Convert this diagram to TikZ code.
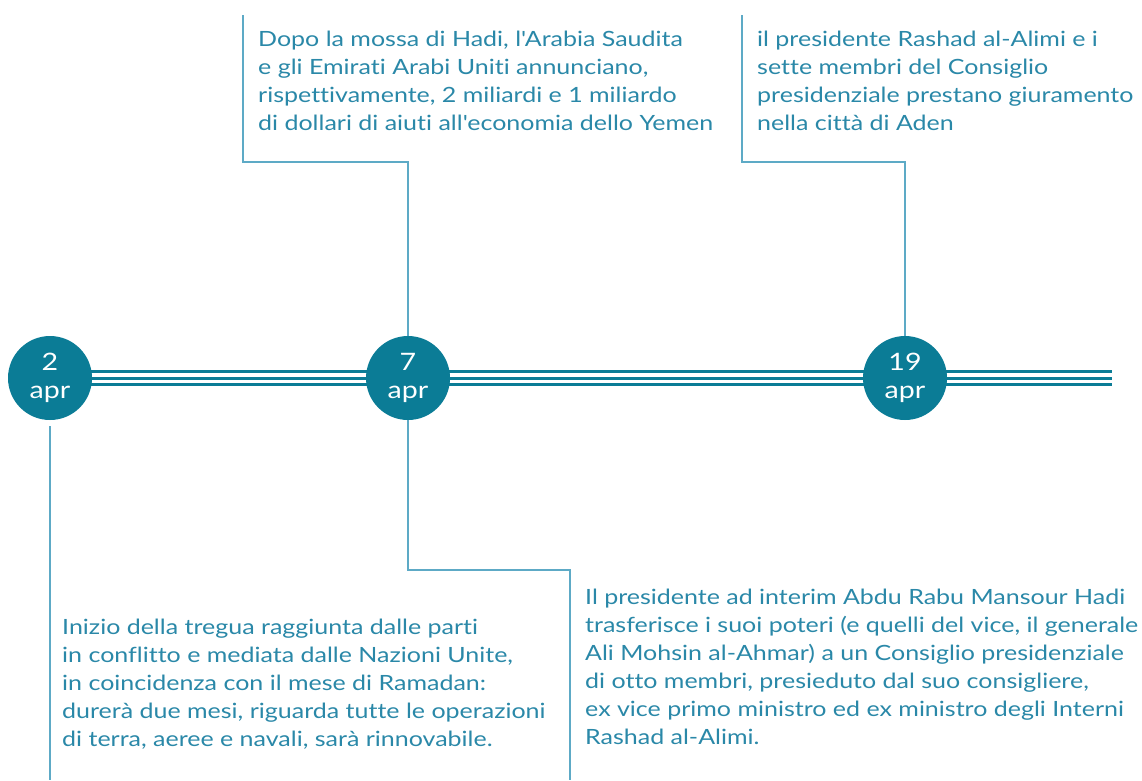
\documentclass[tikz,border=0pt]{standalone}
\usepackage{fontspec}
\setmainfont{Lato}[Ligatures={NoCommon}]
\newfontfamily\widefont{Lato}[FakeStretch=1.19, Ligatures={NoCommon}]
\usetikzlibrary{backgrounds}
\definecolor{teal}{HTML}{0B7C96}
\definecolor{conncol}{HTML}{5DAAC6}
\definecolor{txtcol}{HTML}{2A88A8}
\tikzset{
  datec/.style={circle, fill=teal, minimum size=84pt, inner sep=0pt, text=white, align=center, font=\widefont\fontsize{24}{30}\selectfont},
  conn/.style={draw=conncol, line width=1.4pt},
  band/.style={draw=teal, line width=3pt},
  evtext/.style={anchor=north west, inner sep=0pt, align=left, text=txtcol, font=\widefont\fontsize{21}{28}\selectfont},
}
\begin{document}
\begin{tikzpicture}[x=1pt,y=-1pt]
\useasboundingbox (0,0) rectangle (1142,780);
% date circles
\node[datec] (d1) at (50,378) {2\\[-2pt]apr};
\node[datec] (d2) at (408,378) {7\\[-2pt]apr};
\node[datec] (d3) at (905,378) {19\\[-2pt]apr};
\coordinate (end) at (1112,378);
% triple band
\begin{scope}[on background layer]
\foreach \dy in {-7,0,6}{
  \draw[band] ([yshift=-\dy pt]d1.center) -- ([yshift=-\dy pt]end);
}
\end{scope}
% connector coordinates
\coordinate (b1) at (50,780);
\coordinate (k1) at (408,162);
\coordinate (t1) at (243,15);
\coordinate (k2) at (408,570);
\coordinate (b2) at (570,780);
\coordinate (k3) at (905,162);
\coordinate (t3) at (742,15);
\draw[conn] ([yshift=-6pt]d1.south) -- (b1);
\draw[conn] (d2.north) -- (k1) -| (t1);
\draw[conn] (d2.south) -- (k2) -| (b2);
\draw[conn] (d3.north) -- (k3) -| (t3);
% texts
\node[evtext] (e1) at (258,31) {Dopo la mossa di Hadi, l'Arabia Saudita\\e gli Emirati Arabi Uniti annunciano,\\rispettivamente, 2 miliardi e 1 miliardo\\di dollari di aiuti all'economia dello Yemen};
\node[evtext] (e2) at (757,31) {il presidente Rashad al-Alimi e i\\sette membri del Consiglio\\presidenziale prestano giuramento\\nella città di Aden};
\node[evtext] (e3) at (62,619) {Inizio della tregua raggiunta dalle parti\\in conflitto e mediata dalle Nazioni Unite,\\in coincidenza con il mese di Ramadan:\\durerà due mesi, riguarda tutte le operazioni\\di terra, aeree e navali, sarà rinnovabile.};
\node[evtext] (e4) at (585,589) {Il presidente ad interim Abdu Rabu Mansour Hadi\\trasferisce i suoi poteri (e quelli del vice, il generale\\Ali Mohsin al-Ahmar) a un Consiglio presidenziale\\di otto membri, presieduto dal suo consigliere,\\ex vice primo ministro ed ex ministro degli Interni\\Rashad al-Alimi.};
\end{tikzpicture}
\end{document}
